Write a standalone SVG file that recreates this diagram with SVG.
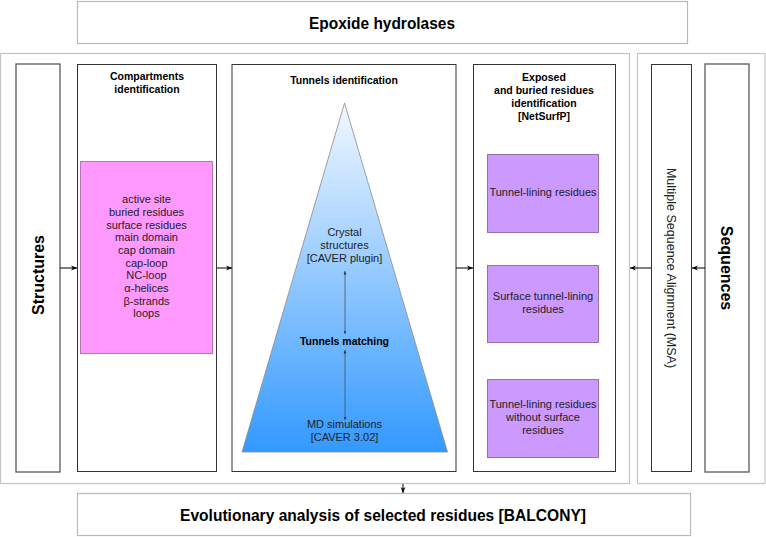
<svg xmlns="http://www.w3.org/2000/svg" width="766" height="537" viewBox="0 0 766 537">
<style>
text{font-family:"Liberation Sans",Arial,sans-serif;fill:#000;}
.big{font-size:17px;font-weight:bold;text-anchor:middle;}
.side{font-size:16px;font-weight:bold;text-anchor:middle;}
.hd{font-size:10.5px;font-weight:bold;text-anchor:middle;}
.t{font-size:11px;text-anchor:middle;fill:#222;}
.cont{fill:#fff;stroke:#c4c4c4;stroke-width:1.2;}
.edge{fill:#fff;stroke:#b8b8b8;stroke-width:1.2;}
.box{fill:#fff;stroke:#333;stroke-width:1;}
.gbox{fill:#fff;stroke:#666;stroke-width:1.4;}
.pink{fill:#ff99ff;stroke:#b277b2;stroke-width:1;}
.purple{fill:#cc99ff;stroke:#9673a6;stroke-width:1;}
.conn{stroke:#000;stroke-width:1;fill:none;}
.thin{stroke:#444;stroke-width:0.7;fill:none;}
</style>
<defs>
<linearGradient id="tri" x1="0" y1="0" x2="0" y2="1">
<stop offset="0" stop-color="#f2f8ff"/>
<stop offset="1" stop-color="#3399ff"/>
</linearGradient>
<marker id="ah" viewBox="0 0 10 10" refX="10" refY="5" markerWidth="6" markerHeight="6" markerUnits="userSpaceOnUse" orient="auto">
<path d="M0,1 L10,5 L0,9 L3,5 Z" fill="#000"/>
</marker>
<marker id="sm" viewBox="0 0 10 10" refX="10" refY="5" markerWidth="3.5" markerHeight="3.5" markerUnits="userSpaceOnUse" orient="auto-start-reverse">
<path d="M0,1 L10,5 L0,9 Z" fill="#333"/>
</marker>
</defs>

<g id="containers">
<rect class="cont" x="0.5" y="53.5" width="629" height="430"/>
<rect class="cont" x="637.5" y="53.5" width="127.5" height="430"/>
</g>

<g id="epoxide">
<rect class="edge" x="77.5" y="1.5" width="610" height="42"/>
<text class="big" x="382" y="29" textLength="146" lengthAdjust="spacingAndGlyphs">Epoxide hydrolases</text>
</g>

<g id="structures">
<rect class="gbox" x="16" y="64" width="44" height="408"/>
<text class="side" transform="translate(44,275) rotate(-90)">Structures</text>
</g>

<g id="compartments">
<rect class="box" x="77.5" y="64.5" width="139" height="407"/>
<text class="hd" x="147" y="80">Compartments</text>
<text class="hd" x="147" y="93">identification</text>
<rect class="pink" x="80.5" y="161.5" width="132" height="192"/>
<text class="t" x="146.5" y="203">active site</text>
<text class="t" x="146.5" y="216">buried residues</text>
<text class="t" x="146.5" y="228.5">surface residues</text>
<text class="t" x="146.5" y="241">main domain</text>
<text class="t" x="146.5" y="254">cap domain</text>
<text class="t" x="146.5" y="266.5">cap-loop</text>
<text class="t" x="146.5" y="279">NC-loop</text>
<text class="t" x="146.5" y="292">α-helices</text>
<text class="t" x="146.5" y="304.5">β-strands</text>
<text class="t" x="146.5" y="317">loops</text>
</g>

<g id="tunnels">
<rect class="box" x="232" y="64.5" width="224" height="407"/>
<text class="hd" x="344" y="84">Tunnels identification</text>
<path d="M344.5,103 L447.5,452 L242,452 Z" fill="url(#tri)" stroke="#8a8a8a" stroke-width="0.8"/>
<text class="t" x="344.5" y="236">Crystal</text>
<text class="t" x="344.5" y="249">structures</text>
<text class="t" x="344.5" y="262">[CAVER plugin]</text>
<text class="hd" x="344.5" y="345">Tunnels matching</text>
<text class="t" x="344.5" y="428">MD simulations</text>
<text class="t" x="344.5" y="441">[CAVER 3.02]</text>
</g>

<g id="exposed">
<rect class="box" x="473.5" y="64.5" width="142" height="407"/>
<text class="hd" x="544" y="81">Exposed</text>
<text class="hd" x="544" y="94">and buried residues</text>
<text class="hd" x="544" y="107">identification</text>
<text class="hd" x="544" y="120">[NetSurfP]</text>
<rect class="purple" x="487.5" y="154.5" width="111" height="78"/>
<text class="t" x="543" y="196">Tunnel-lining residues</text>
<rect class="purple" x="487.5" y="265.5" width="111" height="77"/>
<text class="t" x="543" y="300">Surface tunnel-lining</text>
<text class="t" x="543" y="313">residues</text>
<rect class="purple" x="487.5" y="379.5" width="111" height="78"/>
<text class="t" x="543" y="408">Tunnel-lining residues</text>
<text class="t" x="543" y="421">without surface</text>
<text class="t" x="543" y="434">residues</text>
</g>

<g id="msa">
<rect class="box" x="651.5" y="64.5" width="40" height="407"/>
<text class="t" style="font-size:12.5px" transform="translate(667,268) rotate(90)">Multiple Sequence Alignment (MSA)</text>
</g>

<g id="sequences">
<rect class="gbox" x="705" y="64" width="44" height="408"/>
<text class="side" transform="translate(721,268) rotate(90)">Sequences</text>
</g>

<g id="evolutionary">
<rect class="edge" x="77.5" y="493.5" width="613" height="42"/>
<text class="big" x="383" y="521" textLength="406" lengthAdjust="spacingAndGlyphs">Evolutionary analysis of selected residues [BALCONY]</text>
</g>

<g id="connectors">
<line class="conn" x1="60" y1="268" x2="77" y2="268" marker-end="url(#ah)"/>
<line class="conn" x1="217" y1="268" x2="232" y2="268" marker-end="url(#ah)"/>
<line class="conn" x1="456" y1="268" x2="473" y2="268" marker-end="url(#ah)"/>
<line class="conn" x1="651" y1="268" x2="630" y2="268" marker-end="url(#ah)"/>
<line class="conn" x1="705" y1="268" x2="692" y2="268" marker-end="url(#ah)"/>
<line class="conn" x1="403" y1="484" x2="403" y2="493" marker-end="url(#ah)"/>
<line class="thin" x1="345" y1="271" x2="345" y2="334" marker-start="url(#sm)" marker-end="url(#sm)"/>
<line class="thin" x1="345" y1="350" x2="345" y2="420" marker-start="url(#sm)" marker-end="url(#sm)"/>
</g>
</svg>
